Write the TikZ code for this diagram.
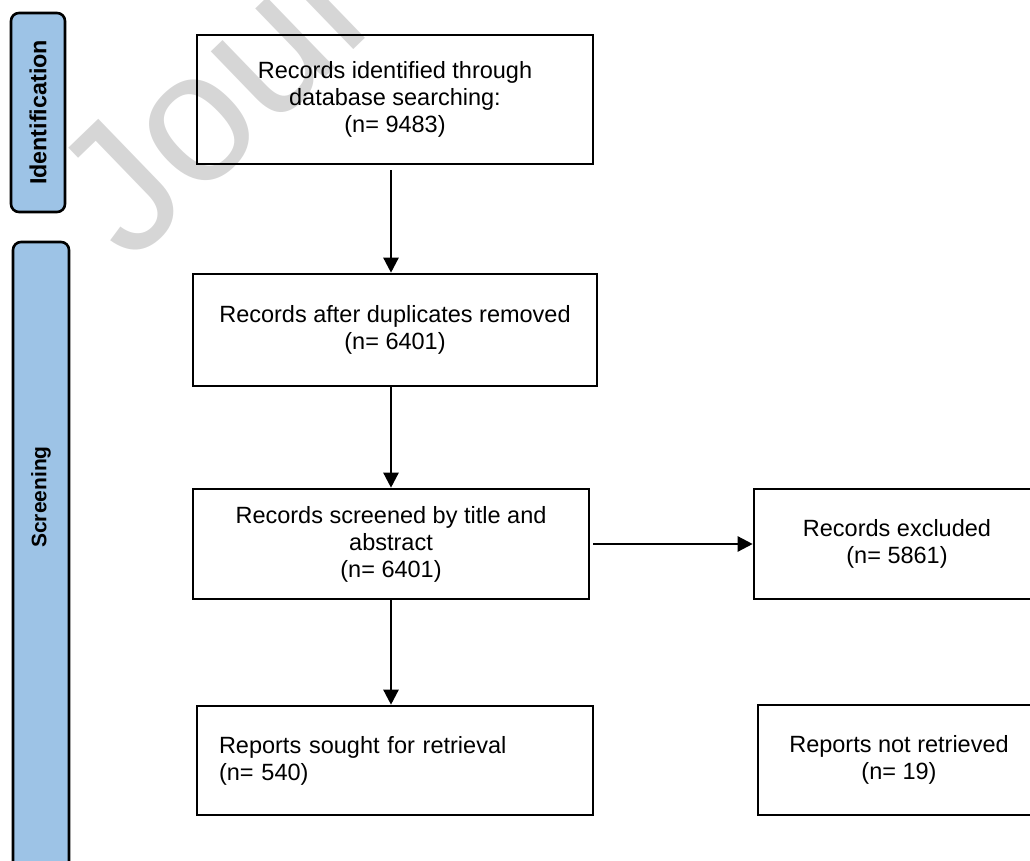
\documentclass[tikz,border=0pt]{standalone}
\usepackage{fontspec}
\setmainfont{Liberation Sans}
\usetikzlibrary{arrows.meta}
\definecolor{sideblue}{HTML}{9DC3E6}
\definecolor{wmgrey}{HTML}{D6D6D6}
\tikzset{
  box/.style={draw=black, line width=2.6pt, rectangle, inner sep=0pt, align=center,
    font=\fontsize{23.5}{27}\selectfont},
  sidebox/.style={draw=black, line width=2.6pt, fill=sideblue, rounded corners=8pt},
  sidelabel/.style={rotate=90, inner sep=0pt, font=\bfseries},
  arr/.style={line width=2.4pt, -{Triangle[length=15pt,width=15pt]}},
}
\begin{document}
\begin{tikzpicture}[x=1pt,y=-1pt]
\useasboundingbox (0,0) rectangle (1030,861);
\clip (0,0) rectangle (1030,861);
% watermark
\node[anchor=base west, rotate=44, inner sep=0pt, text=wmgrey,
  font=\fontsize{185}{185}\selectfont] (wm) at (130,266) {Jour};
% side labels
\node[sidebox, minimum width=54pt, minimum height=199pt, inner sep=0pt] (idbox) at (38,112.5) {};
\node[sidelabel, font=\bfseries\fontsize{23.3}{27}\selectfont] (idlab) at (idbox.center) {Identification};
\node[sidebox, minimum width=56pt, minimum height=700pt, inner sep=0pt] (scbox) at (41,592) {};
\node[sidelabel, font=\bfseries\fontsize{21}{27}\selectfont] (sclab) at (41,497) {Screening};
% main boxes
\node[box, minimum width=396pt, minimum height=129pt] (b1) at (395,99.5)
  {Records identified through\\database searching:\\(n= 9483)};
\node[box, minimum width=404pt, minimum height=112pt] (b2) at (395,330)
  {Records after duplicates removed\\(n= 6401)};
\node[box, minimum width=396pt, minimum height=110pt] (b3) at (391,544)
  {Records screened by title and\\abstract\\(n= 6401)};
\node[box, minimum width=286pt, minimum height=110pt] (ex) at (897,544)
  {Records excluded\\(n= 5861)};
\node[box, minimum width=396pt, minimum height=109pt, text width=352pt, align=left] (b4) at (395,760.5)
  {Reports sought for retrieval\\(n= 540)};
\node[box, minimum width=282pt, minimum height=110pt] (b5) at (899,760)
  {Reports not retrieved\\(n= 19)};
% connectors
\coordinate (spine) at (391,0);
\draw[arr, shorten <=5pt] (b1.south -| spine) -- (b2.north -| spine);
\draw[arr] (b2.south -| spine) -- (b3.north -| spine);
\draw[arr, shorten <=3pt] (b3.east) -- (ex.west);
\draw[arr] (b3.south -| spine) -- (b4.north -| spine);
\end{tikzpicture}
\end{document}
